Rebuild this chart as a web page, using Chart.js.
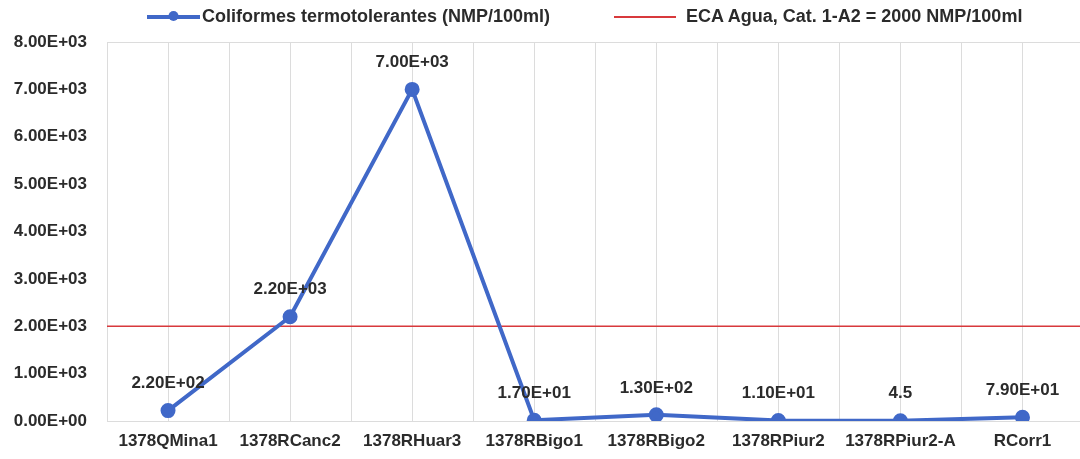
<!DOCTYPE html>
<html>
<head>
<meta charset="utf-8">
<script src="https://cdn.jsdelivr.net/npm/chart.js@4/dist/chart.umd.min.js"></script>
<style>
  html, body { margin: 0; padding: 0; background: #fff; overflow: hidden; }
  #wrap { position: relative; width: 1080px; height: 459px; overflow: hidden; }
  #chart { position: absolute; left: 0; top: 0; }
  #legend { position: absolute; top: 6px; left: 147px; display: flex; align-items: center;
    font: bold 18px "Liberation Sans", Arial, sans-serif; color: #2b2b2b; }
  #legend .item { display: flex; align-items: center; white-space: nowrap; }
  #legend canvas { display: block; }
</style>
</head>
<body>
<div id="wrap">
  <canvas id="chart" width="1093" height="459"></canvas>
  <div id="legend"></div>
</div>
<script>
// data
const categories = ['1378QMina1', '1378RCanc2', '1378RHuar3', '1378RBigo1', '1378RBigo2', '1378RPiur2', '1378RPiur2-A', 'RCorr1'];
const coliformes = [220, 2200, 7000, 17, 130, 11, 4.5, 79];
const pointLabels = ['2.20E+02', '2.20E+03', '7.00E+03', '1.70E+01', '1.30E+02', '1.10E+01', '4.5', '7.90E+01'];
const ecaLimit = 2000;
const yTicks = [0, 1000, 2000, 3000, 4000, 5000, 6000, 7000, 8000];

const seriesName = 'Coliformes termotolerantes (NMP/100ml)';
const limitName = 'ECA Agua, Cat. 1-A2 = 2000 NMP/100ml';

const blue = '#4068c8';
const red = '#d8393c';
const gridColor = '#dcdcdc';
const textColor = '#2b2b2b';
const font = { family: '"Liberation Sans", Arial, sans-serif', size: 17, weight: 'bold' };

const fmtExp = (v) => v.toExponential(2).toUpperCase().replace(/E([+-])(\d)$/, 'E$10$2');

// value labels above the points
const valueLabels = {
  id: 'valueLabels',
  afterDatasetsDraw(chart) {
    const meta = chart.getDatasetMeta(0);
    const c = chart.ctx;
    c.save();
    c.font = `bold ${font.size}px ${font.family}`;
    c.fillStyle = textColor;
    c.textAlign = 'center';
    c.textBaseline = 'middle';
    meta.data.forEach((pt, i) => {
      c.fillText(pointLabels[i], pt.x, pt.y - 27);
    });
    c.restore();
  }
};

const halfSteps = categories.length * 2;

const ctx = document.getElementById('chart').getContext('2d');
const chart = new Chart(ctx, {
  type: 'line',
  data: {
    labels: categories,
    datasets: [
      {
        label: seriesName,
        data: coliformes,
        borderColor: blue,
        backgroundColor: blue,
        borderWidth: 4,
        pointRadius: 5.5,
        pointHoverRadius: 5.5,
        tension: 0,
      },
      {
        label: limitName,
        xAxisID: 'x2',
        data: [{ x: 0, y: ecaLimit }, { x: halfSteps, y: ecaLimit }],
        borderColor: red,
        borderWidth: 1.5,
        pointRadius: 0,
      }
    ]
  },
  options: {
    responsive: false,
    animation: false,
    layout: { padding: { top: 42, right: 0, left: 0, bottom: 0 } },
    plugins: {
      legend: { display: false },
      tooltip: { enabled: false },
    },
    scales: {
      x: {
        type: 'category',
        offset: true,
        grid: { display: false },
        border: { display: false },
        ticks: { color: textColor, font: font, padding: 2, maxRotation: 0, autoSkip: false },
        afterFit: (s) => { s.height = 38; },
      },
      x2: {
        type: 'linear',
        position: 'top',
        min: 0,
        max: halfSteps,
        ticks: { display: false, stepSize: 1 },
        grid: { color: gridColor, drawTicks: false },
        border: { display: false },
        afterFit: (s) => { s.height = 0; },
      },
      y: {
        min: 0,
        max: 8000,
        afterBuildTicks: (s) => { s.ticks = yTicks.map(v => ({ value: v })); },
        grid: {
          drawTicks: false,
          color: (c) => (c.tick && (c.tick.value === 8000 || c.tick.value === 0) ? gridColor : 'rgba(0,0,0,0)'),
        },
        border: { display: false },
        ticks: { color: textColor, font: font, padding: 20, callback: (v) => fmtExp(v) },
        afterFit: (s) => { s.width = 107; },
      }
    }
  },
  plugins: [valueLabels]
});

// legend built from the datasets
const legend = document.getElementById('legend');
chart.data.datasets.forEach((ds, i) => {
  const item = document.createElement('div');
  item.className = 'item';
  const w = i === 0 ? 53 : 62;
  const mark = document.createElement('canvas');
  mark.width = w; mark.height = 14;
  const m = mark.getContext('2d');
  m.strokeStyle = ds.borderColor;
  m.lineWidth = i === 0 ? 4 : 2;
  m.beginPath(); m.moveTo(0, 7); m.lineTo(w, 7); m.stroke();
  if (i === 0) {
    m.fillStyle = ds.borderColor;
    m.beginPath(); m.arc(w / 2, 6, 5, 0, Math.PI * 2); m.fill();
  }
  const txt = document.createElement('span');
  txt.textContent = ds.label;
  txt.style.marginLeft = i === 0 ? '2px' : '10px';
  item.appendChild(mark);
  item.appendChild(txt);
  if (i > 0) item.style.marginLeft = '64px';
  legend.appendChild(item);
});
</script>
</body>
</html>
